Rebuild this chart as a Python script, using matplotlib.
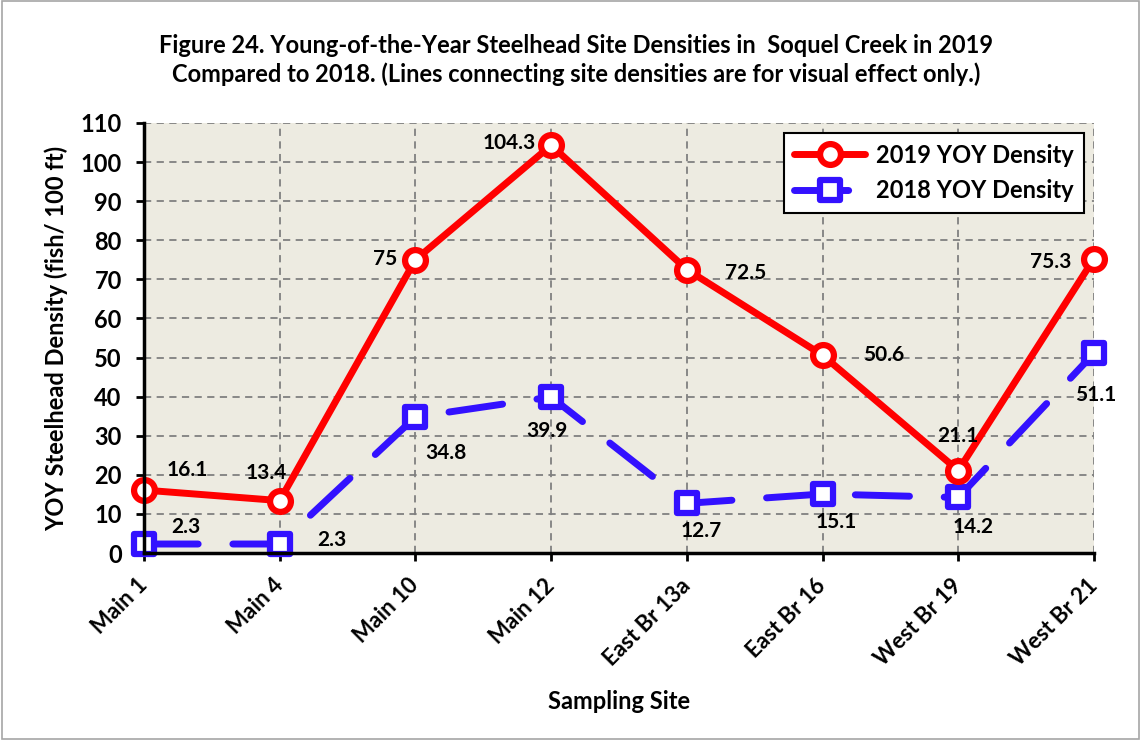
import matplotlib
matplotlib.use("Agg")
from matplotlib import pyplot as plt
from matplotlib.markers import MarkerStyle
from matplotlib.patches import Rectangle

# sampling sites along the creek
sites = ["Main 1", "Main 4", "Main 10", "Main 12",
         "East Br 13a", "East Br 16", "West Br 19", "West Br 21"]

# young-of-the-year densities (fish / 100 ft)
yoy_2019 = [16.1, 13.4, 75, 104.3, 72.5, 50.6, 21.1, 75.3]
yoy_2018 = [2.3, 2.3, 34.8, 39.9, 12.7, 15.1, 14.2, 51.1]

# label offsets in pixels (dx, dy), picked by eye
off_2019 = [(43, 20), (-14, 28), (-30, 1), (-42, 2), (59, -3), (61, 0), (0, 35), (-43, -3)]
off_2018 = [(42, 17), (52, 4), (31, -36), (-4, -34), (14, -28), (14, -28), (15, -30), (2, -42)]

plt.rcParams['font.family'] = ['Lato', 'DejaVu Sans']
plt.rcParams['font.weight'] = 'bold'

red = "#FF0000"
blue = "#3311FF"
px = 0.72  # points per pixel at dpi 100

fig = plt.figure(figsize=(11.41, 7.40), dpi=100)
fig.patches.append(Rectangle((0.002, 0.002), 0.996, 0.996, transform=fig.transFigure,
                             fill=False, edgecolor="#A6A6A6", linewidth=1.2))
ax = fig.add_axes([0.1262, 0.2527, 0.8326, 0.5811])
ax.set_facecolor("#EDEBE1")

x = list(range(len(sites)))

ax.plot(x, yoy_2019, color=red, lw=5, solid_capstyle='round', solid_joinstyle='round',
        marker='o', ms=15, mfc='white', mec=red, mew=4.5, label="2019 YOY Density",
        zorder=4, clip_on=False)
ax.plot(x, yoy_2018, color=blue, lw=5, linestyle=(0, (7.8, 5.0)), dash_capstyle='round',
        marker=MarkerStyle('s', joinstyle='round'), ms=15, mfc='white', mec=blue, mew=4.5,
        label="2018 YOY Density", zorder=3, clip_on=False)

for xi, v, (dx, dy) in zip(x, yoy_2019, off_2019):
    ax.annotate(f"{v:g}", (xi, v), xytext=(dx * px, dy * px), textcoords='offset points',
                ha='center', va='center', fontsize=15, fontweight='bold', zorder=6)
for xi, v, (dx, dy) in zip(x, yoy_2018, off_2018):
    ax.annotate(f"{v:g}", (xi, v), xytext=(dx * px, dy * px), textcoords='offset points',
                ha='center', va='center', fontsize=15, fontweight='bold', zorder=6)

ax.set_xlim(0, 7)
ax.set_ylim(0, 110)
ax.set_yticks(range(0, 111, 10))
ax.set_xticks(x)
ax.set_xticklabels(sites, rotation=45, ha='right', va='center', rotation_mode='anchor')

ax.grid(True, color="#808080", linestyle=(0, (4, 3)), linewidth=1.3)
ax.set_axisbelow(True)
for s in ['top', 'right']:
    ax.spines[s].set_visible(False)
for s in ['left', 'bottom']:
    ax.spines[s].set_linewidth(2.5)
    ax.spines[s].set_zorder(5)

ax.tick_params(axis='y', direction='out', length=6, width=2, pad=10, labelsize=17)
ax.tick_params(axis='x', direction='out', length=6, width=2, pad=15, labelsize=16)
for t in ax.get_xticklabels() + ax.get_yticklabels():
    t.set_fontweight('bold')

ax.set_ylabel("YOY Steelhead Density (fish/ 100 ft)", fontsize=17, fontweight='bold', labelpad=9)
ax.set_xlabel("Sampling Site", fontsize=17, fontweight='bold', labelpad=15)

fig.text(0.505, 0.919, "Figure 24. Young-of-the-Year Steelhead Site Densities in  Soquel Creek in 2019\n"
         "Compared to 2018. (Lines connecting site densities are for visual effect only.)",
         ha='center', va='center', fontsize=17, fontweight='bold', linespacing=1.3)

leg = ax.legend(loc='upper right', bbox_to_anchor=(0.9895, 0.977), fontsize=17, frameon=True,
                fancybox=False, edgecolor='black', framealpha=1, handlelength=3.0,
                borderpad=0.45, labelspacing=0.55, handletextpad=0.45, borderaxespad=0.0)
leg.get_frame().set_linewidth(1.5)
for t in leg.get_texts():
    t.set_fontweight('bold')

fig.savefig("out.png", dpi=100)
